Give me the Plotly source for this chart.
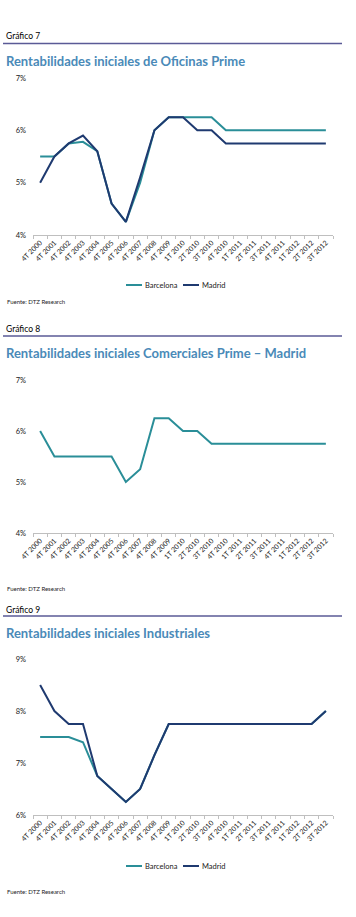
import plotly.graph_objects as go

W, H = 356, 917

categories = ["4T 2000", "4T 2001", "4T 2002", "4T 2003", "4T 2004", "4T 2005", "4T 2006",
              "4T 2007", "4T 2008", "4T 2009", "1T 2010", "2T 2010", "3T 2010", "4T 2010",
              "1T 2011", "2T 2011", "3T 2011", "4T 2011", "1T 2012", "2T 2012", "3T 2012"]

# Gráfico 7 - Oficinas Prime
oficinas_barcelona = [5.5, 5.5, 5.75, 5.78, 5.6, 4.6, 4.25, 5.0, 6.0, 6.25, 6.25, 6.25, 6.25,
                      6.0, 6.0, 6.0, 6.0, 6.0, 6.0, 6.0, 6.0]
oficinas_madrid = [5.0, 5.5, 5.75, 5.9, 5.6, 4.6, 4.25, 5.1, 6.0, 6.25, 6.25, 6.0, 6.0,
                   5.75, 5.75, 5.75, 5.75, 5.75, 5.75, 5.75, 5.75]

# Gráfico 8 - Comerciales Prime Madrid
comerciales_madrid = [6.0, 5.5, 5.5, 5.5, 5.5, 5.5, 5.0, 5.25, 6.25, 6.25, 6.0, 6.0, 5.75,
                      5.75, 5.75, 5.75, 5.75, 5.75, 5.75, 5.75, 5.75]

# Gráfico 9 - Industriales
industrial_barcelona = [7.5, 7.5, 7.5, 7.4, 6.75, 6.5, 6.25, 6.5, 7.15, 7.75, 7.75, 7.75, 7.75,
                        7.75, 7.75, 7.75, 7.75, 7.75, 7.75, 7.75, 8.0]
industrial_madrid = [8.5, 8.0, 7.75, 7.75, 6.75, 6.5, 6.25, 6.5, 7.15, 7.75, 7.75, 7.75, 7.75,
                     7.75, 7.75, 7.75, 7.75, 7.75, 7.75, 7.75, 8.0]

ticks_1 = [4, 5, 6, 7]
ticks_2 = [4, 5, 6, 7]
ticks_3 = [6, 7, 8, 9]

TEAL = "#2a8e98"
NAVY = "#1f3a70"
TITLE = "#4a8ab8"
RULE = "#5a5a96"
FONT = "Lato, 'Open Sans', sans-serif"


def py(y):
    return (H - y) / H


def px(x):
    return x / W


fig = go.Figure()

# chart 1
fig.add_trace(go.Scatter(x=categories, y=oficinas_barcelona, mode="lines", name="Barcelona",
                         line=dict(color=TEAL, width=2), xaxis="x", yaxis="y", showlegend=False))
fig.add_trace(go.Scatter(x=categories, y=oficinas_madrid, mode="lines", name="Madrid",
                         line=dict(color=NAVY, width=2), xaxis="x", yaxis="y", showlegend=False))
# chart 2
fig.add_trace(go.Scatter(x=categories, y=comerciales_madrid, mode="lines", name="Madrid",
                         line=dict(color=TEAL, width=2), xaxis="x2", yaxis="y2", showlegend=False))
# chart 3
fig.add_trace(go.Scatter(x=categories, y=industrial_barcelona, mode="lines", name="Barcelona",
                         line=dict(color=TEAL, width=2), xaxis="x3", yaxis="y3", showlegend=False))
fig.add_trace(go.Scatter(x=categories, y=industrial_madrid, mode="lines", name="Madrid",
                         line=dict(color=NAVY, width=2), xaxis="x3", yaxis="y3", showlegend=False))

xdom = [px(33), px(333)]
xax = dict(domain=xdom, type="category", range=[-0.5, 20.5], showline=True, linecolor="#bfbfbf",
           linewidth=1, ticks="outside", tickson="boundaries", ticklen=3, tickcolor="#bfbfbf",
           tickangle=-45, tickfont=dict(size=7, color="#222", family=FONT), showgrid=False,
           zeroline=False, automargin=False, fixedrange=True)


def yax(vals, top_px, bot_px, anchor):
    return dict(domain=[py(bot_px), py(top_px)], range=[vals[0], vals[-1]], tickmode="array",
                tickvals=vals, ticktext=[f"{v}%" for v in vals],
                showgrid=False, zeroline=False, showline=False, ticks="",
                ticklabelstandoff=6, tickfont=dict(size=7.5, color="#222", family=FONT),
                automargin=False, anchor=anchor, fixedrange=True)


fig.update_layout(
    width=W, height=H, autosize=False,
    margin=dict(l=0, r=0, t=0, b=0),
    paper_bgcolor="white", plot_bgcolor="white",
    font=dict(family=FONT, color="#222"),
    showlegend=False,
    xaxis=dict(xax, anchor="y"),
    xaxis2=dict(xax, anchor="y2"),
    xaxis3=dict(xax, anchor="y3"),
    yaxis=yax(ticks_1, 78, 235, "x"),
    yaxis2=yax(ticks_2, 380, 533, "x2"),
    yaxis3=yax(ticks_3, 659, 815, "x3"),
)

headers = [
    ("Gráfico 7", 36, 43.5, "Rentabilidades iniciales de Oficinas Prime", 61, "Fuente: DTZ Research", 301),
    ("Gráfico 8", 329, 336, "Rentabilidades iniciales Comerciales Prime \u2013 Madrid", 353, "Fuente: DTZ Research", 588),
    ("Gráfico 9", 610, 616, "Rentabilidades iniciales Industriales", 633, "Fuente: DTZ Research", 891),
]

for g, gy, ly, t, ty, f, fy in headers:
    fig.add_annotation(text=g, x=px(4), y=py(gy), xref="paper", yref="paper", xanchor="left",
                       yanchor="middle", showarrow=False, font=dict(size=8.5, color="#000", family=FONT))
    fig.add_shape(type="line", x0=px(3), x1=px(342), y0=py(ly), y1=py(ly), xref="paper", yref="paper",
                  line=dict(color=RULE, width=1.3))
    fig.add_annotation(text="<b>" + t + "</b>", x=px(4), y=py(ty), xref="paper", yref="paper",
                       xanchor="left", yanchor="middle", showarrow=False,
                       font=dict(size=13, color=TITLE, family=FONT))
    fig.add_annotation(text=f, x=px(5), y=py(fy), xref="paper", yref="paper", xanchor="left",
                       yanchor="middle", showarrow=False, font=dict(size=6, color="#222", family=FONT))

# legends (charts 7 and 9)
legend_items = [("Barcelona", TEAL, 126), ("Madrid", NAVY, 183)]
for ly in (285, 866):
    for name, col, x0 in legend_items:
        fig.add_shape(type="line", x0=px(x0), x1=px(x0 + 16), y0=py(ly), y1=py(ly), xref="paper",
                      yref="paper", line=dict(color=col, width=2))
        fig.add_annotation(text=name, x=px(x0 + 16.5), y=py(ly), xref="paper", yref="paper",
                           xanchor="left", yanchor="middle", showarrow=False,
                           font=dict(size=7.5, color="#222", family=FONT))

fig.write_html("out.html", config={"displayModeBar": False},
               post_script="document.body.style.margin='0';")
